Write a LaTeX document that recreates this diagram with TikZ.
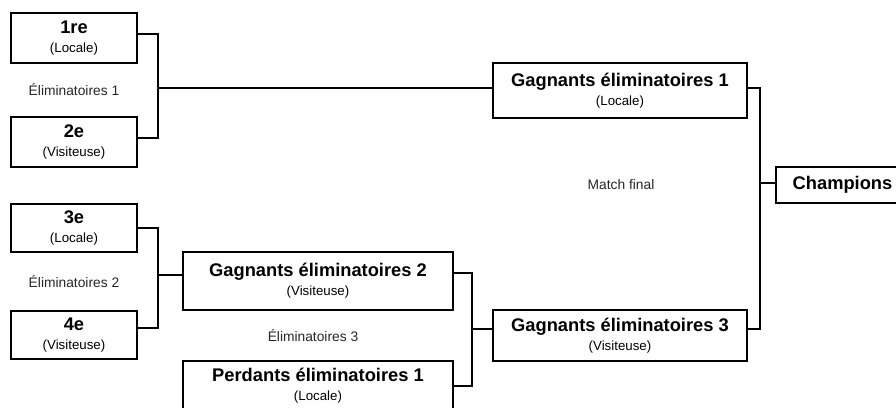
\documentclass[tikz,border=0pt]{standalone}
\usepackage{fontspec}
\setmainfont{Liberation Sans}
\usetikzlibrary{positioning}

\newcommand{\bigname}[1]{{\fontsize{18.3}{19}\bfseries\selectfont #1}}

\tikzset{
    team/.style={draw, line width=1.6pt, align=center, inner sep=0pt,
        font=\fontsize{13.3}{16}\selectfont},
    label/.style={font=\fontsize{13.8}{16}\selectfont, text=black!85},
    bracket/.style={line width=1.3pt}
}

\begin{document}
\begin{tikzpicture}[x=1pt, y=-1pt]
    \path[use as bounding box, clip] (0,0) rectangle (896,407);
    % first round
    \node[team, minimum width=126pt, minimum height=50pt] (r1) at (74,38) {\bigname{1re}\\[3pt](Locale)};
    \node[team, minimum width=126pt, minimum height=50pt] (r2) at (74,142) {\bigname{2e}\\[3pt](Visiteuse)};
    \node[team, minimum width=126pt, minimum height=48pt] (r3) at (74,228) {\bigname{3e}\\[3pt](Locale)};
    \node[team, minimum width=126pt, minimum height=48pt] (r4) at (74,335) {\bigname{4e}\\[3pt](Visiteuse)};
    \node[label] (t1) at (74,90) {Éliminatoires 1};
    \node[label] (t2) at (74,282) {Éliminatoires 2};
    % second round
    \node[team, minimum width=270pt, minimum height=58pt] (g2) at (318,281) {\bigname{Gagnants éliminatoires 2}\\[3pt](Visiteuse)};
    \node[team, minimum width=270pt, minimum height=50pt] (p1) at (318,386) {\bigname{Perdants éliminatoires 1}\\[3pt](Locale)};
    \node[label] (t3) at (313,336) {Éliminatoires 3};
    % final
    \node[team, minimum width=254pt, minimum height=55pt] (g1) at (620,90.5) {\bigname{Gagnants éliminatoires 1}\\[3pt](Locale)};
    \node[team, minimum width=254pt, minimum height=51pt] (g3) at (620,335.5) {\bigname{Gagnants éliminatoires 3}\\[3pt](Visiteuse)};
    \node[label] (tf) at (621,185) {Match final};
    \node[team, minimum width=133pt, minimum height=36pt] (ch) at (842.5,185) {\bigname{Champions}};

    \coordinate (j1) at (158,88);
    \coordinate (j2) at (158,275);
    \coordinate (j3) at (472,329);
    \coordinate (j4) at (760,183);

    \draw[bracket] ([yshift=4pt]r1.east) -| (j1) |- ([yshift=4pt]r2.east);
    \draw[bracket] (j1) -- (j1 -| g1.west);
    \draw[bracket] (r3.east) -| (j2) |- ([yshift=7pt]r4.east);
    \draw[bracket] (j2) -- (j2 -| g2.west);
    \draw[bracket] ([yshift=8pt]g2.east) -| (j3) |- (p1.east);
    \draw[bracket] (j3) -- (j3 -| g3.west);
    \draw[bracket] ([yshift=2.5pt]g1.east) -| (j4) |- ([yshift=6.5pt]g3.east);
    \draw[bracket] (j4) -- (j4 -| ch.west);
\end{tikzpicture}
\end{document}
